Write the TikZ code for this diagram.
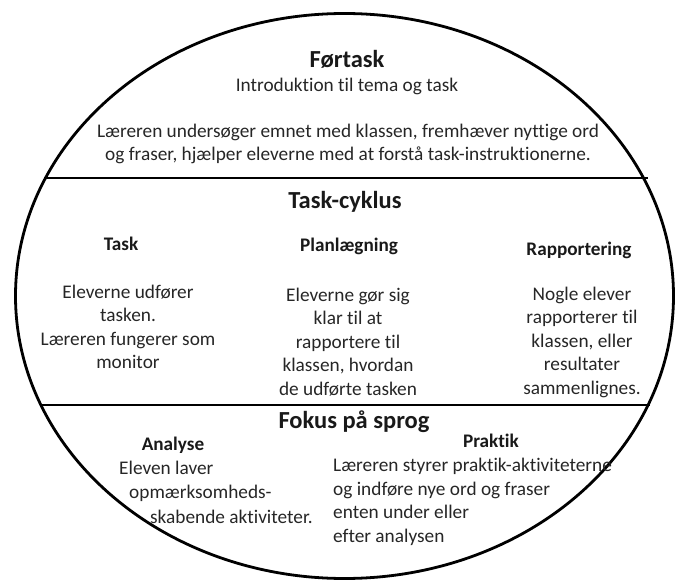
\documentclass[tikz,border=0pt]{standalone}
\usepackage{fontspec}
\setmainfont{Carlito}[Ligatures=NoCommon]
\usetikzlibrary{shapes.geometric}
\begin{document}
\begin{tikzpicture}[x=1pt,y=-1pt,
  body/.style={inner sep=0pt,font=\fontsize{19.3}{23.5}\selectfont,text=black!85},
  bigtitle/.style={inner sep=0pt,font=\fontsize{24.5}{28}\selectfont\bfseries,text=black!90},
  subtitle/.style={inner sep=0pt,font=\fontsize{19.2}{22}\selectfont\bfseries,text=black!90},
  border/.style={line width=2.8pt,black}]
\useasboundingbox (0,0) rectangle (675,580);
\node[draw,border,ellipse,minimum width=658pt,minimum height=565pt,inner sep=0pt] (oval) at (344.5,296) {};
\coordinate (l1a) at (44,178); \coordinate (l1b) at (648,178);
\coordinate (l2a) at (41,405); \coordinate (l2b) at (650,405);
\draw[border] (l1a) -- (l1b);
\draw[border] (l2a) -- (l2b);
% Fortask
\node[bigtitle] (fortask) at (347,59) {Førtask};
\node[body] (intro) at (347,86) {Introduktion til tema og task};
\node[body,align=center] (fpar) at (348,144) {Læreren undersøger emnet med klassen, fremhæver nyttige ord\\og fraser, hjælper eleverne med at forstå task-instruktionerne.};
% Task-cyklus
\node[bigtitle] (cyk) at (345,202) {Task-cyklus};
\node[subtitle] (task) at (121,244) {Task};
\node[subtitle] (plan) at (349,246) {Planlægning};
\node[subtitle] (rapp) at (579,250) {Rapportering};
\node[body,align=center] (taskb) at (128,327) {Eleverne udfører\\tasken.\\Læreren fungerer som\\monitor};
\node[body,align=center] (planb) at (348,342) {Eleverne gør sig\\klar til at\\rapportere til\\klassen, hvordan\\de udførte tasken};
\node[body,align=center] (rappb) at (582,342) {Nogle elever\\rapporterer til\\klassen, eller\\resultater\\sammenlignes.};
% Fokus
\node[bigtitle] (fokus) at (354,422) {Fokus på sprog};
\node[subtitle] (anal) at (173,445) {Analyse};
\node[subtitle] (prak) at (491,441) {Praktik};
\node[body,align=left,anchor=west,font=\fontsize{19.3}{24.5}\selectfont] (analb) at (119,492) {Eleven laver\\\hspace*{10pt}opmærksomheds-\\\hspace*{31pt}skabende aktiviteter.};
\node[body,align=left,anchor=west] (prakb) at (333,502) {Læreren styrer praktik-aktiviteterne\\og indføre nye ord og fraser\\enten under eller\\efter analysen};
\end{tikzpicture}
\end{document}
